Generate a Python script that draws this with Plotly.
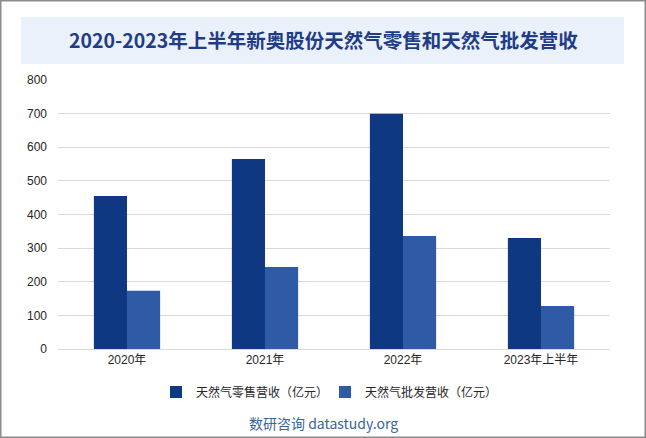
import plotly.graph_objects as go

categories = ['2020年', '2021年', '2022年', '2023年上半年']
retail = [455, 565, 700, 330]
wholesale = [173, 244, 336, 128]
series_names = ['天然气零售营收（亿元）', '天然气批发营收（亿元）']

# plot area in pixels: x 58..610, y 80..349
PW, PH = 552, 269


def px(x):
    return (x - 58) / PW


def py(y):
    return (349 - y) / PH


fig = go.Figure()
fig.add_trace(
    go.Bar(
        x=categories,
        y=retail,
        name=series_names[0],
        marker=dict(color='#0E3882', line=dict(width=0)),
    )
)
fig.add_trace(
    go.Bar(
        x=categories,
        y=wholesale,
        name=series_names[1],
        marker=dict(color='#2F5AA6', line=dict(width=0)),
    )
)

tick_font = dict(family='Liberation Sans, Arial, Noto Sans CJK SC, sans-serif', size=12, color='#262626')

fig.update_layout(
    width=646,
    height=438,
    margin=dict(l=58, r=36, t=80, b=89, autoexpand=False),
    paper_bgcolor='white',
    plot_bgcolor='white',
    barmode='group',
    bargap=0.52,
    bargroupgap=0,
    font=dict(family='Noto Sans CJK SC, Arial, sans-serif', size=12, color='#262626'),
    showlegend=True,
    legend=dict(
        orientation='h',
        x=px(156),
        xanchor='left',
        y=py(392),
        yanchor='middle',
        font=dict(size=12, color='#262626'),
        itemwidth=30,
        entrywidth=124,
        traceorder='normal',
    ),
    xaxis=dict(
        showgrid=False,
        showline=True,
        linecolor='#D9D9D9',
        linewidth=1,
        ticks='',
        tickfont=tick_font,
    ),
    yaxis=dict(
        range=[0, 800],
        dtick=100,
        showgrid=True,
        gridcolor='#D9D9D9',
        gridwidth=1,
        zeroline=False,
        showline=False,
        ticks='',
        tickfont=tick_font,
        ticklabelstandoff=10,
    ),
    shapes=[
        dict(type='rect', xref='paper', yref='paper',
             x0=px(21), x1=px(624), y0=py(64), y1=py(17),
             fillcolor='#EAF1FB', line=dict(width=0), layer='below'),
        dict(type='rect', xref='paper', yref='paper',
             x0=px(0.75), x1=px(645.25), y0=py(437.25), y1=py(0.75),
             line=dict(color='#8C8C8C', width=1.5), fillcolor='rgba(0,0,0,0)'),
    ],
    annotations=[
        dict(
            text='<b>2020-2023年上半年新奥股份天然气零售和天然气批发营收</b>',
            xref='paper', yref='paper', x=px(323), y=py(40),
            xanchor='center', yanchor='middle', showarrow=False,
            font=dict(family='Noto Sans CJK SC, serif', size=19.5, color='#1F3C88'),
        ),
        dict(
            text='数研咨询 datastudy.org',
            xref='paper', yref='paper', x=px(323), y=py(423),
            xanchor='center', yanchor='middle', showarrow=False,
            font=dict(family='Noto Sans CJK SC, Arial, sans-serif', size=14, color='#3A6496'),
        ),
    ],
)

# drop the page's default body margin so the figure sits at the window's corner
fig.write_html('out.html', config={'displayModeBar': False},
               post_script="document.body.style.margin='0';")
